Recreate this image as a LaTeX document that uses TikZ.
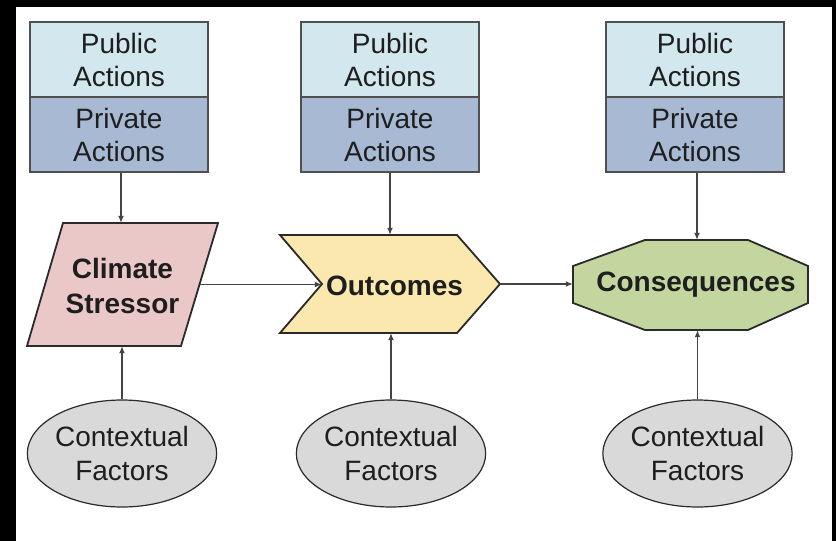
\documentclass[tikz,border=0pt]{standalone}
\usepackage{fontspec}
\setmainfont{Liberation Sans}
\usetikzlibrary{arrows.meta,shapes.geometric,calc}
\definecolor{pubfill}{HTML}{D2E8EE}
\definecolor{privfill}{HTML}{A8B9D4}
\definecolor{csfill}{HTML}{EBC8C8}
\definecolor{outfill}{HTML}{FBE8AF}
\definecolor{cqfill}{HTML}{C4D6A0}
\definecolor{ctxfill}{HTML}{D9D9D9}
\definecolor{boxline}{HTML}{505050}
\definecolor{shapeline}{HTML}{2A2A2A}
\definecolor{connline}{HTML}{444444}
\definecolor{txt}{HTML}{1E1E1E}
\begin{document}
\begin{tikzpicture}[x=1pt,y=-1pt,
  actbox/.style={draw=boxline, line width=1.8pt, minimum width=178pt, minimum height=75pt,
    inner sep=0pt, align=center, font=\fontsize{28}{33}\selectfont, text=txt},
  pubbox/.style={actbox, fill=pubfill},
  privbox/.style={actbox, fill=privfill},
  ctx/.style={ellipse, draw=shapeline, line width=1.2pt, fill=ctxfill, minimum width=189pt,
    minimum height=107pt, inner sep=0pt, align=center, font=\fontsize{28}{34}\selectfont, text=txt},
  shapeout/.style={draw=shapeline, line width=1.8pt, line join=miter},
  lbl/.style={font=\bfseries\fontsize{28}{35}\selectfont, text=txt, inner sep=0pt},
  hold/.style={inner sep=0pt, draw=none},
  conn/.style={draw=connline, line width=1.3pt, -{Latex[length=7pt,width=6pt]}}]
% frame
\fill[black] (0,0) rectangle (836,541);
\fill[white] (16,7) rectangle (832,541);
\useasboundingbox (0,0) rectangle (836,541);

% shapes
\draw[shapeout, fill=csfill] (63,223) -- (218,223) -- (181,346) -- (27,346) -- cycle;
\draw[shapeout, fill=outfill] (280,235) -- (457,235) -- (500,284) -- (457,333) -- (280,333) -- (322,284) -- cycle;
\draw[shapeout, fill=cqfill] (645,240) -- (748,240) -- (808,266) -- (808,303) -- (748,330) -- (645,330) -- (573,303) -- (573,266) -- cycle;

% holders for connector ends
\node[hold, minimum width=155pt, minimum height=123pt] (cs) at (122.5,284.5) {};
\node[hold, minimum width=178pt, minimum height=98pt] (out) at (411,284) {};
\node[hold, minimum width=235pt, minimum height=90pt] (cq) at (690.5,285) {};

% labels
\node[lbl, align=center] (cslbl) at (122.5,286) {Climate\\Stressor};
\node[lbl, anchor=base] (outlbl) at (394.5,295) {Outcomes};
\node[lbl, anchor=base] (cqlbl) at (696,291) {Consequences};

% action boxes
\node[pubbox] (pub1) at (119,59.5) {Public\\Actions};
\node[privbox] (priv1) at (119,134.5) {Private\\Actions};
\node[pubbox] (pub2) at (390,59.5) {Public\\Actions};
\node[privbox] (priv2) at (390,134.5) {Private\\Actions};
\node[pubbox] (pub3) at (695,59.5) {Public\\Actions};
\node[privbox] (priv3) at (695,134.5) {Private\\Actions};

% contextual factors
\node[ctx] (ctx1) at (122,453.5) {Contextual\\Factors};
\node[ctx] (ctx2) at (391,453.5) {Contextual\\Factors};
\node[ctx] (ctx3) at (697.5,453.5) {Contextual\\Factors};

% connectors
\draw[conn] ([xshift=2pt]priv1.south) -- ([xshift=2pt]priv1.south |- cs.north);
\draw[conn] (priv2.south) -- (priv2.south |- out.north);
\draw[conn] ([xshift=2pt]priv3.south) -- ([xshift=2pt]priv3.south |- cq.north);
\draw[conn] (ctx1.north) -- (ctx1.north |- cs.south);
\draw[conn] (ctx2.north) -- (ctx2.north |- out.south);
\draw[conn] (ctx3.north) -- (ctx3.north |- cq.south);
\draw[conn] (cs.east) -- (cs.east -| out.west);
\draw[conn] (out.east) -- (out.east -| cq.west);
\end{tikzpicture}
\end{document}
